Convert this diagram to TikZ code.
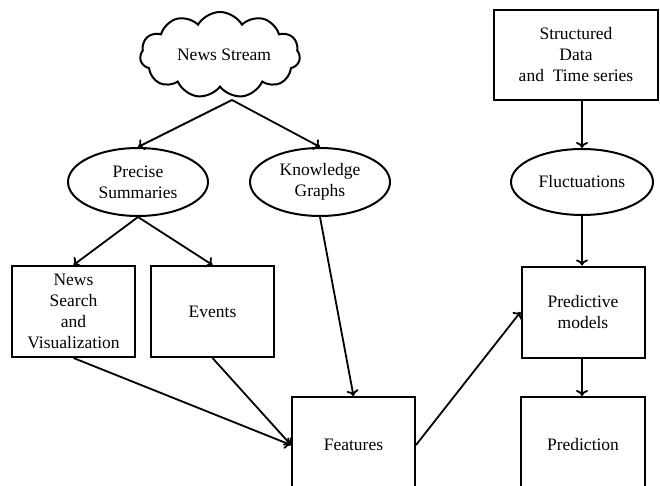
\documentclass[tikz,border=0pt]{standalone}
\usepackage{fontspec}
\setmainfont{Liberation Serif}
\usetikzlibrary{shapes.symbols,shapes.geometric,arrows.meta}
\begin{document}
\begin{tikzpicture}[x=1pt,y=-1pt, line width=2pt,
  every node/.style={font=\fontsize{17.5}{21}\selectfont, align=center},
  box/.style={draw, rectangle, inner sep=0pt, line width=2pt},
  oval/.style={draw, ellipse, minimum width=140pt, minimum height=68pt, inner sep=0pt, line width=2pt},
  conn/.style={line width=1.8pt, -{To[length=6pt,width=12pt,line width=1.8pt]}}]
\useasboundingbox (0,0) rectangle (660,486);
\clip (0,0) rectangle (660,486);
\node[draw, line width=2pt, cloud, cloud puffs=11, cloud puff arc=120, aspect=1.9, minimum width=160pt, minimum height=86pt, inner sep=0pt] (cloud) at (220,55) {};
\node at (224,55) {News Stream};
\node[oval] (ps) at (138,182) {Precise\\Summaries};
\node[oval] (kg) at (320,182) {Knowledge\\Graphs};
\node[oval, minimum width=142pt, minimum height=66pt] (fl) at (582,182) {Fluctuations};
\node[box, minimum width=164pt, minimum height=90pt] (sd) at (576,55) {Structured\\Data\\and~ Time series};
\node[box, minimum width=123pt, minimum height=91pt] (ns) at (73.5,311.5) {News\\Search\\and\\Visualization};
\node[box, minimum width=123pt, minimum height=91pt] (ev) at (212.5,311.5) {Events};
\node[box, minimum width=123pt, minimum height=91pt] (pm) at (583,312) {Predictive\\models};
\node[box, minimum width=123pt, minimum height=96pt] (feat) at (353.5,445) {Features};
\node[box, minimum width=124pt, minimum height=96pt] (pred) at (583,445) {Prediction};
\coordinate (cs) at (232,100);
\draw[conn] (cs) -- (ps.north);
\draw[conn] (cs) -- (kg.north);
\draw[conn] (ps.south) -- (ns.north);
\draw[conn] (ps.south) -- (ev.north);
\draw[conn] (ns.south) -- (feat.west);
\draw[conn] (ev.south) -- (feat.west);
\draw[conn] (kg.south) -- (feat.north);
\draw[conn] (feat.east) -- (pm.west);
\draw[conn] (sd.south -| fl.north) -- (fl.north);
\draw[conn] (fl.south) -- (pm.north -| fl.south);
\draw[conn] (pm.south -| fl.south) -- (pred.north -| fl.south);
\end{tikzpicture}
\end{document}
